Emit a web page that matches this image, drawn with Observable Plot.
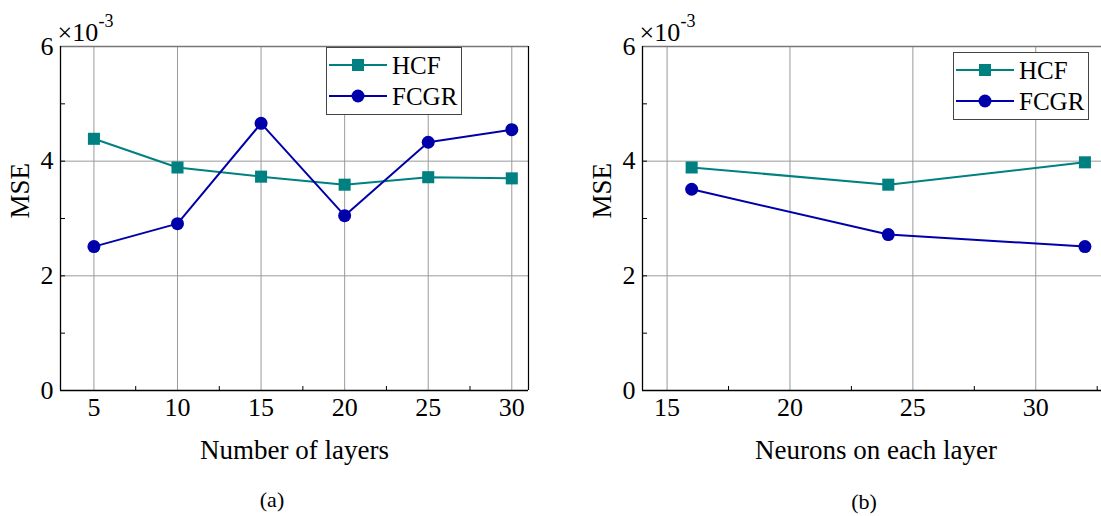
<!DOCTYPE html>
<html><head><meta charset="utf-8">
<script src="https://cdn.jsdelivr.net/npm/d3@7"></script>
<script src="https://cdn.jsdelivr.net/npm/@observablehq/plot@0.6"></script>
<style>
html,body{margin:0;padding:0;background:#fff;}
body{width:1101px;height:516px;overflow:hidden;position:relative;font-family:"Liberation Serif","Times New Roman","DejaVu Serif",serif;}
.panel{position:absolute;top:0;}
.panel svg{max-width:none !important;font-family:"Liberation Serif","Times New Roman","DejaVu Serif",serif !important;}
svg text{font-family:"Liberation Serif","Times New Roman","DejaVu Serif",serif !important;}
.cap{position:absolute;font-size:22px;line-height:1;transform:translate(-50%,-50%);color:#000;}
.legend{position:absolute;}
</style>
</head><body>
<div id="a" class="panel" style="left:0px;width:580px"></div>
<div id="b" class="panel" style="left:580px;width:540px"></div>
<div class="cap" style="left:272px;top:500px">(a)</div>
<div class="cap" style="left:864px;top:502px">(b)</div>
<script>
// ---- data ----
const seriesNames = ["HCF", "FCGR"];
const layers = [5, 10, 15, 20, 25, 30];
const hcfLayers = [4.39, 3.89, 3.73, 3.59, 3.72, 3.70];
const fcgrLayers = [2.51, 2.91, 4.66, 3.05, 4.33, 4.55];
const neurons = [16, 24, 32];
const hcfNeurons = [3.89, 3.59, 3.98];
const fcgrNeurons = [3.51, 2.72, 2.51];
const yTicks = [0, 2, 4, 6];
const yMinor = [1, 3, 5];
const xTicksA = [5, 10, 15, 20, 25, 30];
const xMinorA = [7.5, 12.5, 17.5, 22.5, 27.5];
const xTicksB = [15, 20, 25, 30];
const xMinorB = [17.5, 22.5, 27.5, 32.5];

const colors = {HCF: "#008080", FCGR: "#0000AA"};
const FONT = '"Liberation Serif","Times New Roman","DejaVu Serif",serif';

function rows(xs, hcf, fcgr) {
  const out = [];
  xs.forEach((x, i) => out.push({x, y: hcf[i], s: "HCF"}));
  xs.forEach((x, i) => out.push({x, y: fcgr[i], s: "FCGR"}));
  return out;
}

function panel({xs, hcf, fcgr, domain, ticks, minor, label, width, marginLeft, marginRight}) {
  const data = rows(xs, hcf, fcgr);
  const marginTop = 46, marginBottom = 82, height = 472;
  const plotW = width - marginLeft - marginRight;
  const plotH = height - marginTop - marginBottom;
  const tickLenY = 4 / plotH * 6;
  return Plot.plot({
    width, height, marginTop, marginBottom, marginLeft, marginRight,
    style: {fontFamily: FONT, fontSize: "26px", color: "#000", background: "#fff", maxWidth: "none"},
    x: {domain, ticks, tickSize: 0, tickPadding: 7, label: null, tickFormat: d => String(d)},
    y: {domain: [0, 6], ticks: yTicks, tickSize: 0, tickPadding: 7, label: null, tickFormat: d => String(d)},
    marks: [
      Plot.ruleX(ticks, {stroke: "#9a9a9a", strokeWidth: 1}),
      Plot.ruleY([2, 4], {stroke: "#9a9a9a", strokeWidth: 1}),
      Plot.ruleY([6], {stroke: "#777", strokeWidth: 1.3}),
      Plot.ruleX([domain[1]], {stroke: "#000", strokeWidth: 1.2}),
      Plot.ruleX([domain[0]], {stroke: "#000", strokeWidth: 1.3}),
      Plot.ruleY([0], {stroke: "#000", strokeWidth: 1.3}),
      Plot.ruleY(yMinor.concat([2, 4]), {x1: domain[0], x2: domain[1], insetRight: plotW - 5, stroke: "#000"}),
      Plot.ruleX(minor, {y1: 0, y2: tickLenY, stroke: "#000"}),
      Plot.line(data, {x: "x", y: "y", z: "s", stroke: d => colors[d.s], strokeWidth: 2}),
      Plot.dot(data.filter(d => d.s === "HCF"), {x: "x", y: "y", symbol: "square", r: 6.8, fill: colors.HCF, stroke: "none"}),
      Plot.dot(data.filter(d => d.s === "FCGR"), {x: "x", y: "y", symbol: "circle", r: 6.5, fill: colors.FCGR, stroke: "none"}),
      Plot.text([label], {frameAnchor: "bottom", dy: 68, fontSize: 27, text: d => d}),
      Plot.text(["MSE"], {frameAnchor: "left", dx: -40, rotate: -90, fontSize: 27, text: d => d}),
      Plot.text(["\u00d710"], {frameAnchor: "top-left", dx: -3, dy: -6, textAnchor: "start", lineAnchor: "bottom", fontSize: 26, text: d => d}),
      Plot.text(["-3"], {frameAnchor: "top-left", dx: 38, dy: -20, textAnchor: "start", lineAnchor: "bottom", fontSize: 18, text: d => d})
    ]
  });
}

document.getElementById("a").append(panel({
  xs: layers, hcf: hcfLayers, fcgr: fcgrLayers, domain: [3, 31],
  ticks: xTicksA, minor: xMinorA, label: "Number of layers",
  width: 580, marginLeft: 60, marginRight: 52
}));
document.getElementById("b").append(panel({
  xs: neurons, hcf: hcfNeurons, fcgr: fcgrNeurons, domain: [14, 33],
  ticks: xTicksB, minor: xMinorB, label: "Neurons on each layer",
  width: 540, marginLeft: 62, marginRight: 11
}));

// ---- legends ----
function legend(left, top) {
  const w = 135, h = 67;
  const svg = d3.select("body").append("svg").attr("class", "legend")
    .style("left", left + "px").style("top", top + "px")
    .attr("width", w + 2).attr("height", h + 2);
  svg.append("rect").attr("x", 0.5).attr("y", 0.5).attr("width", w).attr("height", h)
    .attr("fill", "#fff").attr("stroke", "#444").attr("stroke-width", 1);
  seriesNames.forEach((name, i) => {
    const cy = 18 + i * 31;
    svg.append("line").attr("x1", 3).attr("x2", 61).attr("y1", cy).attr("y2", cy)
      .attr("stroke", colors[name]).attr("stroke-width", 2);
    if (name === "HCF") {
      svg.append("rect").attr("x", 32 - 6).attr("y", cy - 6).attr("width", 12).attr("height", 12).attr("fill", colors[name]);
    } else {
      svg.append("circle").attr("cx", 32).attr("cy", cy).attr("r", 6.5).attr("fill", colors[name]);
    }
    svg.append("text").attr("x", 66).attr("y", cy).attr("dy", "0.35em")
      .attr("font-family", FONT).attr("font-size", 25).text(name);
  });
}
legend(326, 47);
legend(953, 52);
</script>
</body></html>
